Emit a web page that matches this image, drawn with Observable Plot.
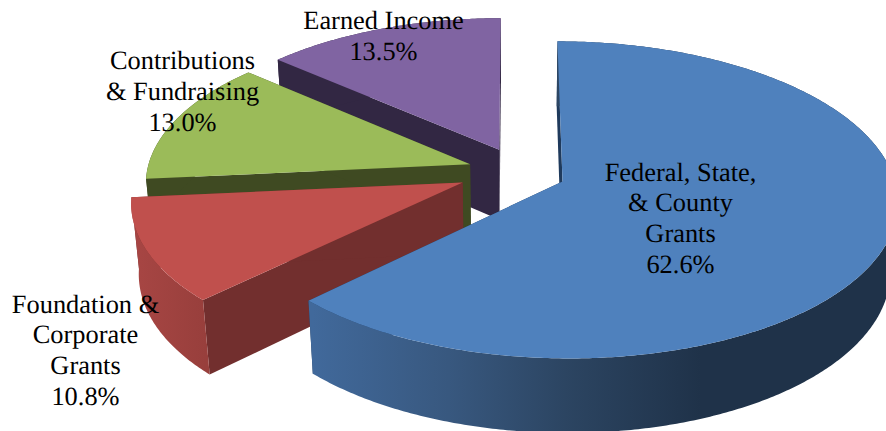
<!DOCTYPE html>
<html>
<head>
<meta charset="utf-8">
<style>html,body{margin:0;padding:0;background:#fff;overflow:hidden}</style>
<script src="https://cdn.jsdelivr.net/npm/d3@7"></script>
<script src="https://cdn.jsdelivr.net/npm/@observablehq/plot@0.6"></script>
</head>
<body>
<div id="chart"></div>
<script>
// Data
const categories = ["Federal, State,\n& County\nGrants", "Foundation &\nCorporate\nGrants", "Contributions\n& Fundraising", "Earned Income"];
const shares = [62.6, 10.8, 13.0, 13.5];

// Appearance and layout (separate from the data)
const topColors = ["#4f81bd", "#c0504d", "#9bbb59", "#8064a2"];
const wallColors = ["#1f3a5c", "#722f2e", "#3f4a22", "#322743"];
const outerFills = ["url(#blueWall)", "url(#redWall)", "#3f4a22", "#322743"];
const labelX = [680, 85, 182, 383];
const labelBottom = [272, 404, 130, 59];
const explode = 0.16;
const nudgeX = [0, -0.008, 0.02, 0.022];
const radiusScale = [1, 0.988, 0.98, 0.98];
const depthScale = [0.98, 1, 1, 1];
const view = {cx: 513, h: 171.4, R: 330, B: 154.2, k: 0.115, D: 72, m: 0.02};

// Perspective projection of a point on the disk (X, Y) at depth Z
const project = (X, Y, Z) => {
  const w = 1 + view.k * Y + view.m * Z;
  return {x: view.cx + view.R * X / w, y: view.h + (-view.B * Y + view.D * Z) / w};
};

const total = d3.sum(shares);
const cumulative = d3.cumsum(shares);
const polys = [];
shares.forEach((s, i) => {
  const a0 = ((cumulative[i] - s) / total) * 2 * Math.PI;
  const a1 = (cumulative[i] / total) * 2 * Math.PI;
  const mid = (a0 + a1) / 2;
  const ox = Math.sin(mid) * explode + nudgeX[i];
  const oy = Math.cos(mid) * explode;
  const r = radiusScale[i];
  const dz = depthScale[i];
  const n = Math.max(2, Math.ceil((a1 - a0) / 0.01));
  const rim = (Z) => d3.range(n + 1).map(j => {
    const a = a0 + (a1 - a0) * j / n;
    return project(ox + r * Math.sin(a), oy + r * Math.cos(a), Z);
  });
  const apex = (Z) => project(ox, oy, Z);
  const top = rim(0), bottom = rim(dz);
  polys[i] = [
    {fill: wallColors[i], pts: [apex(0), top[0], bottom[0], apex(dz)]},
    {fill: wallColors[i], pts: [apex(0), top[n], bottom[n], apex(dz)]},
    {fill: outerFills[i], pts: [...top, ...bottom.slice().reverse()]},
    {fill: topColors[i], pts: [apex(0), ...top]}
  ];
});

// Painter's order: back slices first
const drawOrder = [3, 2, 1, 0];
const marks = [];

marks.push(() => {
  const defs = d3.create("svg:defs");
  const grad = (id, x1, x2, stops) => {
    const g = defs.append("linearGradient").attr("id", id)
      .attr("gradientUnits", "userSpaceOnUse")
      .attr("x1", x1).attr("x2", x2).attr("y1", 0).attr("y2", 0);
    stops.forEach(([o, c]) => g.append("stop").attr("offset", o).attr("stop-color", c));
  };
  grad("blueWall", 312, 700, [[0, "#41699b"], [0.35, "#38587f"], [0.65, "#2c4562"], [1, "#1f3249"]]);
  grad("redWall", 130, 205, [[0, "#a84644"], [1, "#983f3c"]]);
  return defs.node();
});

for (const i of drawOrder) {
  for (const p of polys[i]) {
    marks.push(Plot.line(p.pts, {x: "x", y: "y", fill: p.fill, stroke: "none", curve: "linear"}));
  }
}

const labels = categories.map((name, i) => ({
  text: `${name}\n${shares[i].toFixed(1)}%`,
  x: labelX[i],
  y: labelBottom[i]
}));
marks.push(Plot.text(labels, {
  x: "x", y: "y", text: "text",
  textAnchor: "middle", lineAnchor: "bottom", lineHeight: 1.16,
  fontSize: 26.4, fontFamily: "Liberation Serif", fill: "#000"
}));

const chart = Plot.plot({
  width: 886, height: 431,
  margin: 0,
  x: {domain: [0, 886], range: [0, 886], axis: null},
  y: {domain: [0, 431], range: [0, 431], axis: null},
  style: {background: "#fff", overflow: "hidden", textRendering: "geometricPrecision"},
  marks
});
document.getElementById("chart").appendChild(chart);
</script>
</body>
</html>
